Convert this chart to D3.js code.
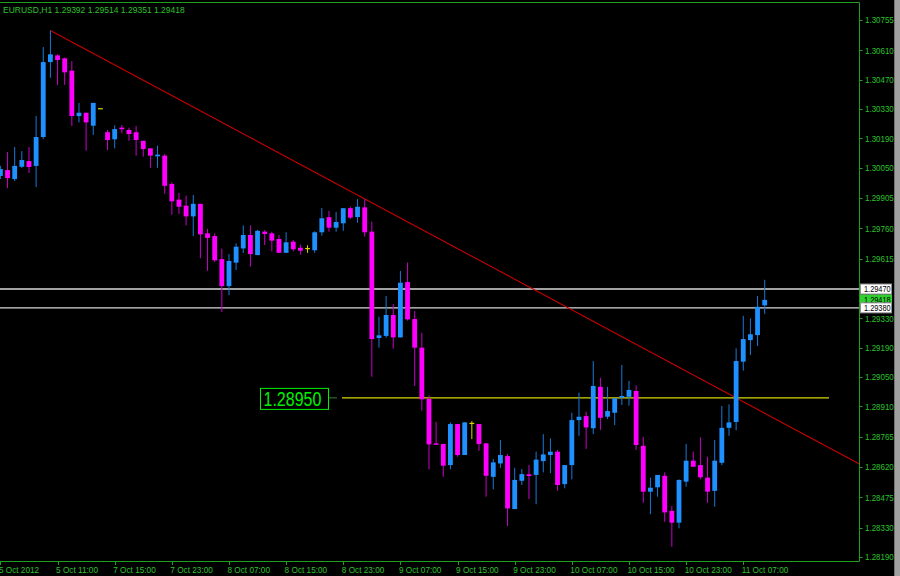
<!DOCTYPE html>
<html><head><meta charset="utf-8">
<script src="https://cdn.jsdelivr.net/npm/d3@7"></script>
<style>html,body{margin:0;padding:0;background:#000;}svg{display:block}</style>
</head><body>
<svg id="chart" width="900" height="576"></svg>
<script>
// ---------- DATA ----------
const chartTitle = "EURUSD,H1  1.29392 1.29514 1.29351 1.29418";
const opens = [1.30010,1.30038,1.29995,1.30054,1.30081,1.30058,1.30196,1.30554,1.30586,1.30572,
1.30513,1.30296,1.30312,1.30250,1.30331,1.30219,1.30185,1.30241,1.30230,1.30219,
1.30178,1.30142,1.30104,1.30107,1.29972,1.29897,1.29868,1.29817,1.29877,1.29736,
1.29723,1.29613,1.29484,1.29596,1.29664,1.29728,1.29632,1.29744,1.29736,1.29709,
1.29643,1.29696,1.29667,1.29663,1.29655,1.29741,1.29813,1.29763,1.29784,1.29856,
1.29814,1.29860,1.29744,1.29236,1.29246,1.29346,1.29239,1.29503,1.29327,1.29190,
1.28945,1.28733,1.28730,1.28629,1.28825,1.28677,1.28828,1.28825,1.28733,1.28573,
1.28637,1.28672,1.28419,1.28554,1.28585,1.28582,1.28648,1.28677,1.28693,1.28538,
1.28629,1.28844,1.28863,1.28805,1.29003,1.28860,1.28879,1.28951,1.28955,1.28983,
1.28721,1.28502,1.28523,1.28578,1.28410,1.28354,1.28550,1.28650,1.28629,1.28569,
1.28506,1.28640,1.28807,1.28835,1.29123,1.29226,1.29250,1.29392];
const highs = [1.30058,1.30124,1.30148,1.30129,1.30148,1.30296,1.30626,1.30705,1.30591,1.30575,
1.30559,1.30359,1.30312,1.30359,1.30331,1.30230,1.30252,1.30253,1.30241,1.30249,
1.30178,1.30142,1.30155,1.30115,1.29980,1.29929,1.29916,1.29919,1.29877,1.29757,
1.29736,1.29663,1.29637,1.29688,1.29774,1.29774,1.29752,1.29752,1.29744,1.29728,
1.29741,1.29704,1.29682,1.29679,1.29746,1.29857,1.29843,1.29838,1.29856,1.29863,
1.29899,1.29899,1.29792,1.29338,1.29437,1.29398,1.29556,1.29597,1.29365,1.29261,
1.28962,1.28835,1.28730,1.28833,1.28825,1.28833,1.28839,1.28825,1.28733,1.28658,
1.28749,1.28682,1.28616,1.28610,1.28629,1.28693,1.28777,1.28757,1.28701,1.28629,
1.28879,1.28975,1.28884,1.29126,1.29046,1.29003,1.28948,1.29107,1.29031,1.29010,
1.28764,1.28569,1.28582,1.28594,1.28433,1.28561,1.28730,1.28693,1.28762,1.28669,
1.28749,1.28911,1.28919,1.29187,1.29342,1.29330,1.29437,1.29514];
const lows = [1.29995,1.29952,1.29986,1.30048,1.30024,1.29957,1.30186,1.30479,1.30445,1.30445,
1.30249,1.30266,1.30131,1.30206,1.30331,1.30134,1.30142,1.30214,1.30178,1.30107,
1.30102,1.30049,1.30049,1.29925,1.29825,1.29828,1.29774,1.29723,1.29617,1.29557,
1.29599,1.29360,1.29441,1.29561,1.29642,1.29577,1.29632,1.29680,1.29650,1.29643,
1.29643,1.29650,1.29634,1.29643,1.29643,1.29725,1.29744,1.29744,1.29748,1.29804,
1.29787,1.29720,1.29051,1.29190,1.29237,1.29185,1.29239,1.29319,1.29007,1.28889,
1.28609,1.28726,1.28573,1.28609,1.28669,1.28677,1.28753,1.28697,1.28478,1.28513,
1.28616,1.28338,1.28419,1.28534,1.28467,1.28442,1.28594,1.28590,1.28506,1.28518,
1.28561,1.28769,1.28706,1.28777,1.28796,1.28849,1.28820,1.28916,1.28913,1.28701,
1.28449,1.28395,1.28478,1.28358,1.28239,1.28327,1.28526,1.28621,1.28561,1.28449,
1.28430,1.28629,1.28769,1.28795,1.29080,1.29155,1.29198,1.29351];
const closes = [1.30043,1.30000,1.30058,1.30086,1.30053,1.30196,1.30554,1.30591,1.30564,1.30505,
1.30296,1.30312,1.30266,1.30359,1.30331,1.30182,1.30234,1.30233,1.30210,1.30182,
1.30139,1.30107,1.30112,1.29963,1.29889,1.29863,1.29817,1.29877,1.29731,1.29714,
1.29607,1.29484,1.29604,1.29672,1.29728,1.29637,1.29748,1.29733,1.29701,1.29643,
1.29693,1.29660,1.29653,1.29663,1.29741,1.29808,1.29763,1.29790,1.29856,1.29811,
1.29863,1.29741,1.29231,1.29249,1.29346,1.29239,1.29500,1.29325,1.29190,1.28943,
1.28728,1.28726,1.28626,1.28825,1.28677,1.28833,1.28828,1.28730,1.28578,1.28642,
1.28677,1.28422,1.28558,1.28586,1.28577,1.28655,1.28680,1.28693,1.28534,1.28629,
1.28844,1.28860,1.28809,1.29007,1.28855,1.28887,1.28948,1.28959,1.28988,1.28725,
1.28502,1.28521,1.28582,1.28403,1.28354,1.28558,1.28650,1.28621,1.28571,1.28502,
1.28650,1.28807,1.28833,1.29126,1.29231,1.29254,1.29385,1.29418];

const timeTickBars = [0, 8, 16, 24, 32, 40, 48, 56, 64, 72, 80, 88, 96, 104];
const timeTickLabels = ["5 Oct 2012","5 Oct 11:00","7 Oct 15:00","7 Oct 23:00","8 Oct 07:00",
  "8 Oct 15:00","8 Oct 23:00","9 Oct 07:00","9 Oct 15:00","9 Oct 23:00","10 Oct 07:00",
  "10 Oct 15:00","10 Oct 23:00","11 Oct 07:00"];
const priceTicks = [1.30755,1.30610,1.30470,1.30330,1.30190,1.30050,1.29905,1.29760,1.29615,
  1.29330,1.29190,1.29050,1.28910,1.28765,1.28620,1.28475,1.28330,1.28190];
const priceTickLabels = ["1.30755","1.30610","1.30470","1.30330","1.30190","1.30050","1.29905",
  "1.29760","1.29615","1.29330","1.29190","1.29050","1.28910","1.28765","1.28620","1.28475",
  "1.28330","1.28190"];
const horizontalLevels = [1.29470, 1.29380];
const currentPrice = 1.29418;
const markedLevel = 1.28950;
const trendBars = [7, 103];
const trendPrices = [1.30705, 1.28950];

// ---------- LAYOUT ----------
const W = 900, H = 576;
const plotRight = 859.5, plotTop = 2.5, plotBottom = 561.5;
const svg = d3.select("#chart");
const FONT = "Liberation Sans, Arial, sans-serif";
const GREEN_TXT = "#2cc02c", GREEN_LINE = "#1f9f1f";

const x = d3.scaleLinear().domain([0, 107]).range([0.4, 764.7]);
const y = d3.scaleLinear().domain([1.30755, 1.28190]).range([20, 557]);

svg.append("rect").attr("width", W).attr("height", H).attr("fill", "#000");

function txt(g, px, py, s, size, sx, fill) {
  return g.append("text")
    .attr("transform", `translate(${px},${py}) scale(${sx},1)`)
    .attr("font-family", FONT).attr("font-size", size).attr("fill", fill).text(s);
}

const plot = svg.append("g");
plot.selectAll("line.lvl").data(horizontalLevels).enter().append("line")
  .attr("x1", 0).attr("x2", plotRight).attr("y1", d => y(d)).attr("y2", d => y(d))
  .attr("stroke", "#d8d8d8").attr("stroke-width", 1.4);

plot.append("line").attr("x1", 342).attr("x2", 829)
  .attr("y1", y(markedLevel)).attr("y2", y(markedLevel))
  .attr("stroke", "#d6d600").attr("stroke-width", 1.3);
plot.append("line").attr("x1", 329).attr("x2", 337)
  .attr("y1", y(markedLevel)).attr("y2", y(markedLevel))
  .attr("stroke", "#3f7f2f").attr("stroke-width", 1);

const slope = (trendPrices[1] - trendPrices[0]) / (trendBars[1] - trendBars[0]);
const endBar = x.invert(plotRight);
plot.append("line")
  .attr("x1", x(trendBars[0])).attr("y1", y(trendPrices[0]))
  .attr("x2", x(endBar)).attr("y2", y(trendPrices[0] + slope * (endBar - trendBars[0])))
  .attr("stroke", "#c80000").attr("stroke-width", 1.1);

const bars = opens.map((o, i) => ({i, o, h: highs[i], l: lows[i], c: closes[i]}));
const BULL = "#1e90ff", BEAR = "#ff00ff", DOJI = "#d6d600";
const BULL_W = "#1a78d8", BEAR_W = "#c800c8";
const bw = 4.8;
const cg = plot.append("g");
cg.selectAll("line.wick").data(bars).enter().append("line")
  .attr("x1", d => x(d.i)).attr("x2", d => x(d.i))
  .attr("y1", d => y(d.h)).attr("y2", d => y(d.l))
  .attr("stroke", d => d.c > d.o ? BULL_W : d.c < d.o ? BEAR_W : DOJI)
  .attr("stroke-width", 1);
cg.selectAll("rect.body").data(bars).enter().append("rect")
  .attr("x", d => x(d.i) - bw / 2).attr("width", bw)
  .attr("y", d => d.o === d.c ? y(d.o) - 0.6 : y(Math.max(d.o, d.c)))
  .attr("height", d => Math.max(1.2, Math.abs(y(d.o) - y(d.c))))
  .attr("fill", d => d.c > d.o ? BULL : d.c < d.o ? BEAR : DOJI);

const frame = svg.append("g").attr("stroke", GREEN_LINE).attr("stroke-width", 1);
frame.append("line").attr("x1", 0).attr("x2", plotRight).attr("y1", plotTop).attr("y2", plotTop);
frame.append("line").attr("x1", 0).attr("x2", plotRight).attr("y1", plotBottom).attr("y2", plotBottom);
frame.append("line").attr("x1", plotRight).attr("x2", plotRight).attr("y1", plotTop).attr("y2", plotBottom);

txt(svg, 3, 12.6, chartTitle, 9.8, 0.87, GREEN_TXT);

const pa = svg.append("g");
priceTicks.forEach((p, k) => {
  pa.append("line").attr("x1", plotRight).attr("x2", plotRight + 3)
    .attr("y1", Math.round(y(p)) + 0.5).attr("y2", Math.round(y(p)) + 0.5)
    .attr("stroke", GREEN_LINE);
  txt(pa, 865, y(p) + 3.4, priceTickLabels[k], 9.6, 0.83, GREEN_TXT);
});

const ta = svg.append("g");
timeTickBars.forEach((b, k) => {
  ta.append("line").attr("x1", Math.round(x(b)) + 0.5).attr("x2", Math.round(x(b)) + 0.5)
    .attr("y1", plotBottom).attr("y2", plotBottom + 3.5).attr("stroke", GREEN_LINE);
  txt(ta, x(b) - 1.5, 573, timeTickLabels[k], 9.8, 0.84, GREEN_TXT);
});

function priceBox(p, fill, stroke) {
  const g = svg.append("g");
  g.append("rect").attr("x", 860.5).attr("y", y(p) - 5).attr("width", 31).attr("height", 10)
    .attr("fill", fill).attr("stroke", stroke).attr("stroke-width", 1);
  txt(g, 864, y(p) + 3.4, p.toFixed(5), 9.2, 0.8, "#000");
}
priceBox(currentPrice, "#2fd02f", "#2fd02f");
horizontalLevels.forEach(p => priceBox(p, "#ffffff", "#909090"));

const lb = svg.append("g");
lb.append("rect").attr("x", 260.5).attr("y", y(markedLevel) - 9.5).attr("width", 68).attr("height", 21)
  .attr("fill", "#000").attr("stroke", "#00f000").attr("stroke-width", 1);
txt(lb, 263.5, y(markedLevel) + 8, markedLevel.toFixed(5), 20, 0.8, "#00f000");

svg.append("rect").attr("x", 894.5).attr("y", 0).attr("width", 1.2).attr("height", H).attr("fill", "#e8e8e8");
svg.append("rect").attr("x", 895.7).attr("y", 0).attr("width", 4.3).attr("height", H).attr("fill", "#a0a0a0");
</script>
</body></html>
